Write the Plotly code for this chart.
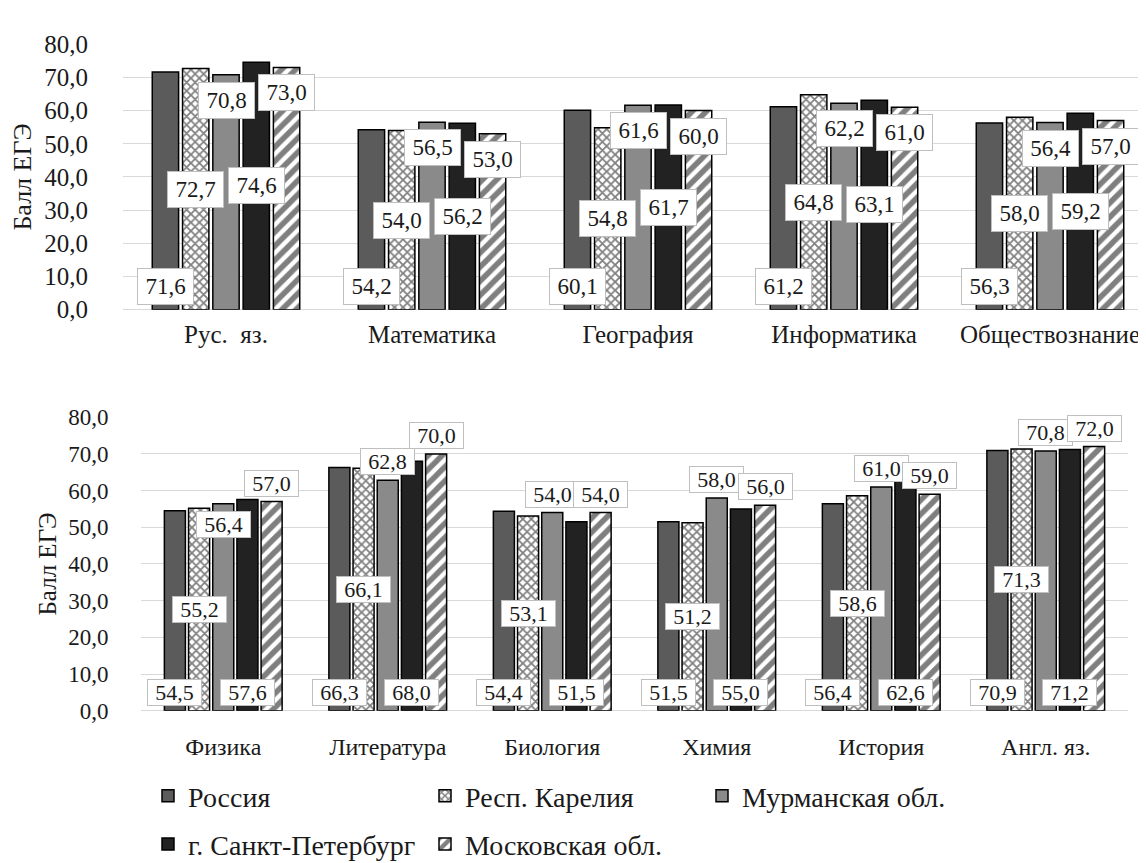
import plotly.graph_objects as go

# ---------------- data ----------------
series_names = ["Россия", "Респ. Карелия", "Мурманская обл.", "г. Санкт-Петербург", "Московская обл."]

cats_top = ["Рус.\u00a0 яз.", "Математика", "География", "Информатика", "Обществознание"]
russia_top = [71.6, 54.2, 60.1, 61.2, 56.3]
karelia_top = [72.7, 54.0, 54.8, 64.8, 58.0]
murmansk_top = [70.8, 56.5, 61.6, 62.2, 56.4]
spb_top = [74.6, 56.2, 61.7, 63.1, 59.2]
moscow_top = [73.0, 53.0, 60.0, 61.0, 57.0]

cats_bot = ["Физика", "Литература", "Биология", "Химия", "История", "Англ. яз."]
russia_bot = [54.5, 66.3, 54.4, 51.5, 56.4, 70.9]
karelia_bot = [55.2, 66.1, 53.1, 51.2, 58.6, 71.3]
murmansk_bot = [56.4, 62.8, 54.0, 58.0, 61.0, 70.8]
spb_bot = [57.6, 68.0, 51.5, 55.0, 62.6, 71.2]
moscow_bot = [57.0, 70.0, 54.0, 56.0, 59.0, 72.0]

y_ticks = [0, 10, 20, 30, 40, 50, 60, 70, 80]
y_title = "Балл ЕГЭ"

top_values = [russia_top, karelia_top, murmansk_top, spb_top, moscow_top]
bot_values = [russia_bot, karelia_bot, murmansk_bot, spb_bot, moscow_bot]

# ---------------- styles ----------------
W, H = 1146, 863
SERIF = "'Times New Roman', 'Liberation Serif', Tinos, serif"
TXT = "#1a1a1a"
GRID = "#d9d9d9"
BARGAP = 0.265
GROUPGAP = 0.13

styles = [
    dict(color="#5b5b5b", pattern=None),
    dict(color="white", pattern=dict(shape="x", fgcolor="black", bgcolor="white", size=6, solidity=0.5)),
    dict(color="#8a8a8a", pattern=None),
    dict(color="#222222", pattern=None),
    dict(color="white", pattern=dict(shape="/", fgcolor="black", bgcolor="white", size=10, solidity=0.55)),
]

# label placement modes (Excel-like)
top_modes = ["base", "center", "inend", "center", "inend"]
bot_modes = ["base", "center", "outend", "base", "outend"]
bot_overrides = {(0, 2): "inend"}  # Физика / Мурманская обл.

fig = go.Figure()

legend_of = ["legend", "legend", "legend", "legend2", "legend2"]

for j, name in enumerate(series_names):
    st = styles[j]
    marker = dict(color=st["color"], line=dict(color="black", width=1.5))
    if st["pattern"]:
        marker["pattern"] = st["pattern"]
    fig.add_trace(go.Bar(x=cats_top, y=top_values[j], name=name, marker=marker,
                         xaxis="x", yaxis="y", legend=legend_of[j], showlegend=True,
                         hoverinfo="skip"))
    fig.add_trace(go.Bar(x=cats_bot, y=bot_values[j], name=name, marker=marker,
                         xaxis="x2", yaxis="y2", showlegend=False, hoverinfo="skip"))

n_series = len(series_names)
slot = (1 - BARGAP) / n_series


def label_annots(values, modes, overrides, xref, yref, fsize, bw, bh):
    out = []
    for j, vals in enumerate(values):
        for i, v in enumerate(vals):
            mode = overrides.get((i, j), modes[j])
            xc = i - (1 - BARGAP) / 2 + (j + 0.5) * slot
            if mode == "base":
                y, ya, ys = 0, "bottom", 5
            elif mode == "center":
                y, ya, ys = v / 2, "middle", 0
            elif mode == "inend":
                y, ya, ys = v, "top", -7
            else:
                y, ya, ys = v, "bottom", 5
            out.append(dict(
                x=xc, y=y, xref=xref, yref=yref, yanchor=ya, yshift=ys,
                xanchor="center", showarrow=False,
                text=f"{v:.1f}".replace(".", ","),
                font=dict(family=SERIF, size=fsize, color=TXT),
                bgcolor="white", bordercolor="#bfbfbf", borderwidth=1, borderpad=1,
                width=bw, height=bh, align="center", valign="middle"))
    return out


annots = []
annots += label_annots(top_values, top_modes, {}, "x", "y", 23, 53, 33)
annots += label_annots(bot_values, bot_modes, bot_overrides, "x2", "y2", 22, 51, 23)

tick_text = [f"{t:.1f}".replace(".", ",") for t in y_ticks]

fig.update_layout(
    width=W, height=H,
    margin=dict(l=0, r=0, t=0, b=0),
    paper_bgcolor="white", plot_bgcolor="white",
    barmode="group", bargap=BARGAP, bargroupgap=GROUPGAP,
    font=dict(family=SERIF, color=TXT),
    annotations=annots,
    xaxis=dict(domain=[115 / W, 1145 / W], anchor="y", type="category",
               tickfont=dict(family=SERIF, size=25, color=TXT),
               ticks="outside", ticklen=2, tickcolor="rgba(0,0,0,0)",
               showgrid=False, showline=False, zeroline=False),
    yaxis=dict(domain=[1 - 298 / H, 1 - 24 / H], anchor="x", range=[0, 80],
               tickvals=y_ticks, ticktext=tick_text,
               tickfont=dict(family=SERIF, size=25, color=TXT),
               ticks="outside", ticklen=29, tickcolor="rgba(0,0,0,0)",
               showgrid=True, gridcolor=GRID, gridwidth=1.3,
               zeroline=True, zerolinecolor=GRID, zerolinewidth=1.3, showline=False,
               title=dict(text=y_title, font=dict(family=SERIF, size=26, color=TXT), standoff=8)),
    xaxis2=dict(domain=[133 / W, 1120 / W], anchor="y2", type="category",
                tickfont=dict(family=SERIF, size=24, color=TXT),
                ticks="outside", ticklen=14, tickcolor="rgba(0,0,0,0)",
                showgrid=False, showline=False, zeroline=False),
    yaxis2=dict(domain=[1 - 712 / H, 1 - 409 / H], anchor="x2", range=[0, 80],
                tickvals=y_ticks, ticktext=tick_text,
                tickfont=dict(family=SERIF, size=23, color=TXT),
                ticks="outside", ticklen=27, tickcolor="rgba(0,0,0,0)",
                showgrid=True, gridcolor=GRID, gridwidth=1.3,
                zeroline=True, zerolinecolor=GRID, zerolinewidth=1.3, showline=False,
                title=dict(text=y_title, font=dict(family=SERIF, size=25, color=TXT), standoff=4)),
    legend=dict(orientation="h", x=140 / W, xanchor="left", y=1 - 800 / H, yanchor="middle",
                entrywidth=232, font=dict(family=SERIF, size=28, color=TXT),
                bgcolor="rgba(0,0,0,0)", traceorder="normal"),
    legend2=dict(orientation="h", x=140 / W, xanchor="left", y=1 - 850 / H, yanchor="middle",
                 entrywidth=232, font=dict(family=SERIF, size=28, color=TXT),
                 bgcolor="rgba(0,0,0,0)", traceorder="normal"),
)

fig.write_html("out.html")
